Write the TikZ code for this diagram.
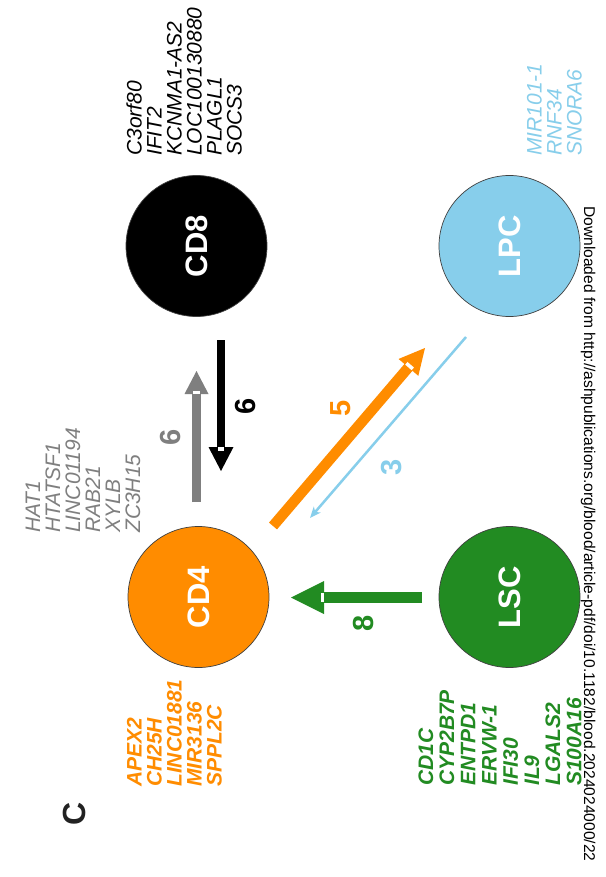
\documentclass[tikz,border=0pt]{standalone}
\usepackage{fontspec}
\setmainfont{Liberation Sans}
\usetikzlibrary{arrows.meta,calc}
\definecolor{cOrange}{HTML}{FF8C00}
\definecolor{cGreen}{HTML}{228B22}
\definecolor{cBlue}{HTML}{87CEEB}
\definecolor{cGray}{HTML}{7F7F7F}
\definecolor{cDark}{HTML}{222222}
% #1 colour, #2 start, #3 tip, #4 shaft width, #5 head length, #6 half head width, #7 notch width
\newcommand\fatarrow[7]{%
  \coordinate (hb) at ($(#3)!#5!(#2)$);
  \draw[#1, line width=#4] (#2) -- (hb);
  \fill[#1] (#3) -- ($(hb)!#6!90:(#3)$) -- ($(hb)!#6!-90:(#3)$) -- cycle;
  \draw[white, line width=#7] (hb) -- ($(hb)!3.5pt!(#3)$);
}
\tikzset{
  gene/.style={rotate=90, anchor=base west, inner sep=0pt, font=\fontsize{21}{21}\selectfont\itshape},
  genebold/.style={gene, font=\fontsize{21}{21}\selectfont\bfseries\itshape},
  cell/.style={circle, draw=black!75, line width=0.7pt, minimum size=141pt, inner sep=0pt,
    rotate=90, text=white, font=\fontsize{31}{31}\selectfont\bfseries},
  num/.style={rotate=90, inner sep=0pt, font=\fontsize{29}{29}\selectfont\bfseries}
}
\begin{document}
\begin{tikzpicture}[x=1pt,y=-1pt]
\useasboundingbox (0,0) rectangle (605,877);
\fill[white] (0,0) rectangle (605,877);

% cells
\node[cell, fill=black] (cd8) at (196.5,246) {CD8};
\node[cell, fill=cBlue] (lpc) at (509.5,246) {LPC};
\node[cell, fill=cOrange] (cd4) at (198.5,597) {CD4};
\node[cell, fill=cGreen] (lsc) at (509.5,597) {LSC};

% gene lists
\foreach \t [count=\i] in {C3orf80,IFIT2,KCNMA1-AS2,LOC100130880,PLAGL1,SOCS3}
  \node[gene, text=black] (cdeightg\i) at ({121.7+20*\i},156) {\t};
\foreach \t [count=\i] in {MIR101-1,RNF34,SNORA6}
  \node[gene, text=cBlue] (lpcg\i) at ({521.7+20*\i},156) {\t};
\foreach \t [count=\i] in {HAT1,HTATSF1,LINC01194,RAB21,XYLB,ZC3H15}
  \node[gene, text=cGray] (grayg\i) at ({20+20*\i},533) {\t};
\foreach \t [count=\i] in {APEX2,CH25H,LINC01881,MIR3136,SPPL2C}
  \node[genebold, text=cOrange] (cdfourg\i) at ({121.7+20*\i},787) {\t};
\foreach \t [count=\i] in {CD1C,CYP2B7P,ENTPD1,ERVW-1,IFI30,IL9,LGALS2,S100A16}
  \node[genebold, text=cGreen] (lscg\i) at ({411.8+21.2*\i},786) {\t};

% arrows
\coordinate (bkS) at (221,340); \coordinate (bkT) at (221,471);
\fatarrow{black}{bkS}{bkT}{8.5pt}{24pt}{12.5pt}{6.5pt}
\coordinate (grS) at (196.5,502); \coordinate (grT) at (196.5,371);
\fatarrow{cGray}{grS}{grT}{9pt}{23pt}{12pt}{7pt}
\coordinate (gnS) at (422,597.5); \coordinate (gnT) at (291,597.5);
\fatarrow{cGreen}{gnS}{gnT}{11.5pt}{33pt}{16.5pt}{9.5pt}
\coordinate (orS) at (273,526); \coordinate (orT) at (425,348);
\fatarrow{cOrange}{orS}{orT}{10.5pt}{25.5pt}{13pt}{8.5pt}
\coordinate (blS) at (466,337); \coordinate (blT) at (310,518);
\draw[cBlue, line width=2.5pt, -{Stealth[length=11pt,width=9pt,inset=3pt]}] (blS) -- (blT);

% numbers
\node[num, text=black] (nbk) at (246,406) {6};
\node[num, text=cGray] (ngr) at (171,437) {6};
\node[num, text=cOrange] (nor) at (341,408) {5};
\node[num, text=cBlue] (nbl) at (392,467) {3};
\node[num, text=cGreen] (ngn) at (364,623) {8};

% panel letter
\node[rotate=90, inner sep=0pt, text=cDark, font=\fontsize{32}{32}\selectfont\bfseries] (lbl) at (74.5,814) {C};

% watermark
\node[rotate=-90, anchor=base west, inner sep=0pt, font=\fontsize{15.6}{15.6}\selectfont] (wm) at (584,206)
  {Downloaded from http://ashpublications.org/blood/article-pdf/doi/10.1182/blood.2024024000/22};
\end{tikzpicture}
\end{document}
